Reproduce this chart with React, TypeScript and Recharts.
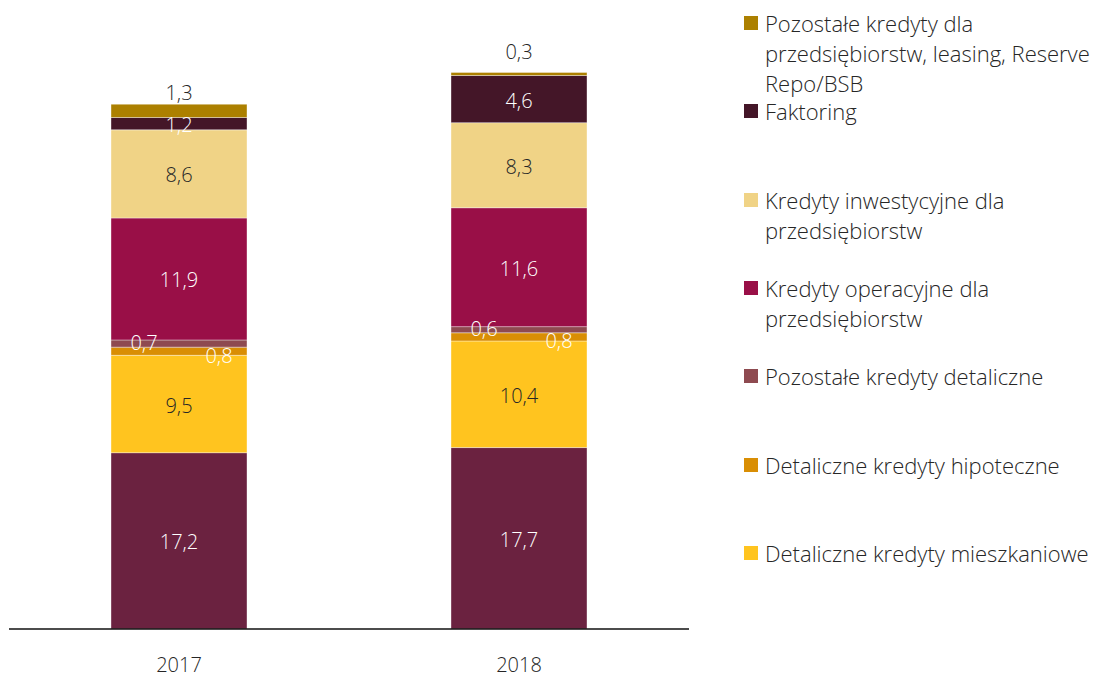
import React from 'react';
import { BarChart, Bar, XAxis, YAxis, LabelList } from 'recharts';

const years = ['2017', '2018'];
const podstawowe = [17.2, 17.7];
const mieszkaniowe = [9.5, 10.4];
const hipoteczne = [0.8, 0.8];
const pozostaleDetaliczne = [0.7, 0.6];
const operacyjne = [11.9, 11.6];
const inwestycyjne = [8.6, 8.3];
const faktoring = [1.2, 4.6];
const pozostaleFirmy = [1.3, 0.3];

const data = years.map((year, i) => ({
  year,
  s0: podstawowe[i],
  s1: mieszkaniowe[i],
  s2: hipoteczne[i],
  s3: pozostaleDetaliczne[i],
  s4: operacyjne[i],
  s5: inwestycyjne[i],
  s6: faktoring[i],
  s7: pozostaleFirmy[i],
}));

const FONT = '"Open Sans", "Noto Sans", sans-serif';
const DARK = '#262626';
const WHITE = '#ffffff';

type Mode = 'center' | 'right' | 'left' | 'above';
const series: { key: string; name: string; color: string; labelColor: string; mode: Mode }[] = [
  { key: 's0', name: '', color: '#6B2240', labelColor: WHITE, mode: 'center' },
  { key: 's1', name: 'Detaliczne kredyty mieszkaniowe', color: '#FFC41F', labelColor: DARK, mode: 'center' },
  { key: 's2', name: 'Detaliczne kredyty hipoteczne', color: '#D98E04', labelColor: WHITE, mode: 'right' },
  { key: 's3', name: 'Pozostałe kredyty detaliczne', color: '#8E4A50', labelColor: WHITE, mode: 'left' },
  { key: 's4', name: 'Kredyty operacyjne dla przedsiębiorstw', color: '#990F47', labelColor: WHITE, mode: 'center' },
  { key: 's5', name: 'Kredyty inwestycyjne dla przedsiębiorstw', color: '#F0D386', labelColor: DARK, mode: 'center' },
  { key: 's6', name: 'Faktoring', color: '#441628', labelColor: WHITE, mode: 'center' },
  { key: 's7', name: 'Pozostałe kredyty dla przedsiębiorstw, leasing, Reserve Repo/BSB', color: '#AC8000', labelColor: DARK, mode: 'above' },
];

const legendItems: { color: string; lines: string[] }[] = [
  { color: '#AC8000', lines: ['Pozostałe kredyty dla', 'przedsiębiorstw, leasing, Reserve', 'Repo/BSB'] },
  { color: '#441628', lines: ['Faktoring'] },
  { color: '#F0D386', lines: ['Kredyty inwestycyjne dla', 'przedsiębiorstw'] },
  { color: '#990F47', lines: ['Kredyty operacyjne dla', 'przedsiębiorstw'] },
  { color: '#8E4A50', lines: ['Pozostałe kredyty detaliczne'] },
  { color: '#D98E04', lines: ['Detaliczne kredyty hipoteczne'] },
  { color: '#FFC41F', lines: ['Detaliczne kredyty mieszkaniowe'] },
];

const fmt = (v: any) => String(v).replace('.', ',');

const makeLabel = (mode: Mode, color: string) => (props: any) => {
  const { x, y, width, height, value, index } = props;
  const cx = Number(x) + Number(width) / 2;
  const cy = Number(y) + Number(height) / 2;
  let lx = cx;
  let ly = cy;
  if (mode === 'right') {
    lx = cx + 40;
    ly = cy + 4;
  } else if (mode === 'left') {
    lx = cx - 35;
    ly = cy - 1;
  } else if (mode === 'above') {
    ly = Number(y) - (index === 1 ? 21 : 12);
  } else {
    ly = cy + 1;
  }
  return (
    <text
      x={lx}
      y={ly}
      textAnchor="middle"
      dominantBaseline="central"
      fill={color}
      fontFamily={FONT}
      fontWeight={300}
      fontSize={20}
    >
      {fmt(value)}
    </text>
  );
};

const YearTick = (props: any) => {
  const { x, y, payload } = props;
  return (
    <text
      x={x}
      y={Number(y) + 27}
      textAnchor="middle"
      dominantBaseline="central"
      fill={DARK}
      fontFamily={FONT}
      fontWeight={300}
      fontSize={20}
    >
      {payload.value}
    </text>
  );
};

export default function App() {
  return (
    <div
      style={{
        position: 'relative',
        width: 1099,
        height: 676,
        fontFamily: FONT,
        overflow: 'hidden',
        background: '#ffffff',
      }}
    >
      <style>{'html,body{margin:0;padding:0;overflow:hidden;}'}</style>
      <div style={{ position: 'absolute', left: 8, top: 8 }}>
        <BarChart
          width={700}
          height={668}
          data={data}
          margin={{ top: 6, right: 19, left: 1, bottom: 8 }}
        >
          <XAxis
            dataKey="year"
            axisLine={{ stroke: '#111', strokeWidth: 1.6 }}
            tickLine={false}
            height={39}
            interval={0}
            tick={<YearTick />}
          />
          <YAxis hide domain={[0, 60]} />
          {series.map((s) => (
            <Bar
              key={s.key}
              dataKey={s.key}
              name={s.name}
              stackId="a"
              fill={s.color}
              stroke="#ffffff"
              strokeOpacity={0.55}
              strokeWidth={0.7}
              barSize={136}
              isAnimationActive={false}
            >
              <LabelList dataKey={s.key} content={makeLabel(s.mode, s.labelColor)} />
            </Bar>
          ))}
        </BarChart>
      </div>
      {legendItems.map((item, k) => (
        <div
          key={k}
          style={{
            position: 'absolute',
            left: 744,
            top: 23 + 88.3 * k - 13,
            fontSize: 22,
            fontWeight: 300,
            color: DARK,
            whiteSpace: 'nowrap',
          }}
        >
          <div
            style={{
              position: 'absolute',
              left: 0,
              top: 6,
              width: 14,
              height: 14,
              background: item.color,
            }}
          />
          <div style={{ marginLeft: 21 }}>
            {item.lines.map((l, j) => (
              <div key={j} style={{ height: 26, lineHeight: '26px', marginBottom: 4 }}>
                {l}
              </div>
            ))}
          </div>
        </div>
      ))}
    </div>
  );
}
